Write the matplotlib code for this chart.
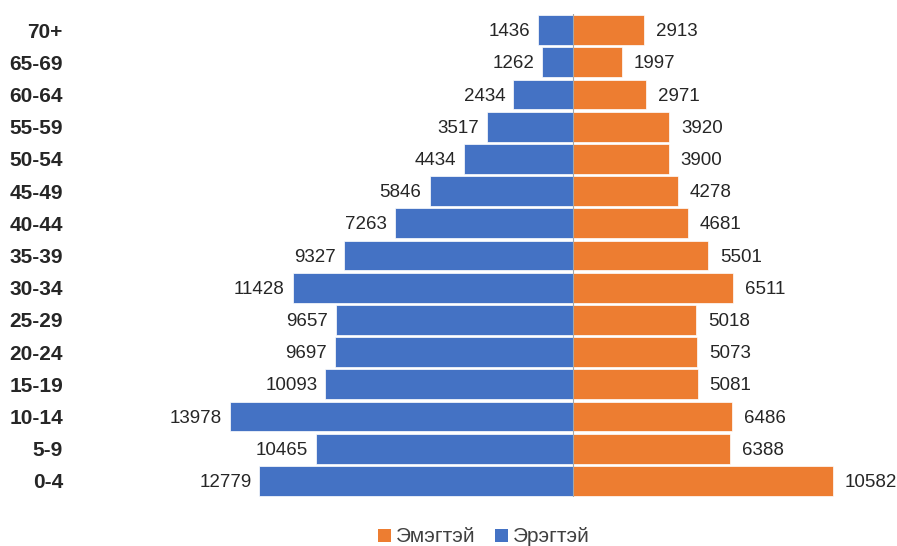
import matplotlib
matplotlib.use("Agg")
import matplotlib.pyplot as plt
from matplotlib.patches import Patch

categories = ["70+", "65-69", "60-64", "55-59", "50-54", "45-49", "40-44", "35-39",
              "30-34", "25-29", "20-24", "15-19", "10-14", "5-9", "0-4"]
male = [1436, 1262, 2434, 3517, 4434, 5846, 7263, 9327, 11428, 9657, 9697, 10093, 13978, 10465, 12779]
female = [2913, 1997, 2971, 3920, 3900, 4278, 4681, 5501, 6511, 5018, 5073, 5081, 6486, 6388, 10582]
series_names = ["Эмэгтэй", "Эрэгтэй"]

plt.rcParams['font.family'] = ['Liberation Sans', 'DejaVu Sans']
W, H = 897, 546
fig = plt.figure(figsize=(W / 100, H / 100), dpi=100)
ax_left, ax_right, ax_top, ax_bot = 90, 880, 14, 497
ax = fig.add_axes([ax_left / W, 1 - ax_bot / H, (ax_right - ax_left) / W, (ax_bot - ax_top) / H])

blue = "#4472C4"
orange = "#ED7D31"
scale = (573 - 230) / 13978.0
x0 = -(573 - ax_left) / scale
x1 = (ax_right - 573) / scale

n = len(categories)
ypos = list(range(n))[::-1]
ax.barh(ypos, [-m for m in male], height=0.92, color=blue, edgecolor="white", linewidth=0.5)
ax.barh(ypos, female, height=0.92, color=orange, edgecolor="white", linewidth=0.5)

off = 8 / scale
for y, m, f in zip(ypos, male, female):
    ax.text(-m - off, y - 0.05, str(m), ha="right", va="center", fontsize=13.5, color="#262626")
    ax.text(f + 12 / scale, y - 0.05, str(f), ha="left", va="center", fontsize=13.5, color="#262626")

ax.set_xlim(x0, x1)
ax.set_ylim(-0.5, n - 0.5)
ax.set_yticks(ypos)
ax.set_yticklabels(categories, fontsize=15, fontweight="bold", color="#262626")
ax.tick_params(axis="y", length=0, pad=19.5)
ax.set_xticks([])
for s in ["top", "right", "bottom", "left"]:
    ax.spines[s].set_visible(False)
ax.axvline(0, color="#A6A6A6", linewidth=0.8, zorder=3)

handles = [Patch(facecolor=orange, label=series_names[0]), Patch(facecolor=blue, label=series_names[1])]
fig.legend(handles=handles, loc="center", bbox_to_anchor=(484 / W, 1 - 537 / H), ncol=2,
           frameon=False, fontsize=15, handlelength=0.6, handleheight=0.6,
           handletextpad=0.25, columnspacing=0.95, labelcolor="#404040")

fig.savefig("out.png", dpi=100)
